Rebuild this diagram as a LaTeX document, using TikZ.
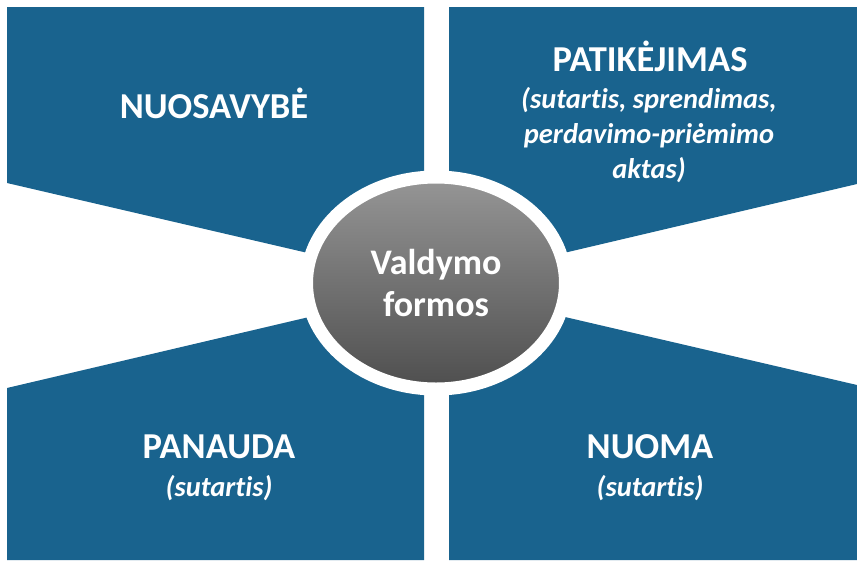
\documentclass[tikz,border=0pt]{standalone}
\usepackage{fontspec}
\setmainfont{Carlito}[Ligatures={NoCommon,NoContextual}]
\usetikzlibrary{shapes.geometric}
\definecolor{blk}{RGB}{25,99,142}
\definecolor{gtop}{RGB}{150,150,150}
\definecolor{gbot}{RGB}{78,78,78}
\begin{document}
\begin{tikzpicture}[x=1pt,y=-1pt,
  block/.style={fill=blk},
  head/.style={anchor=base,text=white,font=\fontsize{36.5}{42}\selectfont\bfseries,inner sep=0pt},
  sub/.style={anchor=base,text=white,font=\fontsize{28.5}{35}\selectfont\bfseries\itshape,inner sep=0pt}]
\useasboundingbox (0,0) rectangle (857,560);
\fill[white] (0,0) rectangle (857,560);
% blocks
\fill[block] (7,7) -- (424,7) -- (424,280) -- (7,183) -- cycle;
\fill[block] (449,7) -- (857,7) -- (857,184) -- (449,280) -- cycle;
\fill[block] (7,560) -- (424,560) -- (424,290) -- (7,388) -- cycle;
\fill[block] (449,560) -- (857,560) -- (857,385) -- (449,290) -- cycle;
% centre
\node[ellipse,minimum width=259pt,minimum height=212pt,inner sep=0pt,
  draw=white,line width=13pt,top color=gtop,bottom color=gbot,
  text=white,align=center,font=\fontsize{36}{42}\selectfont\bfseries] (c) at (436,283) {Valdymo\\formos};
% texts
\node[head] (t1) at (214,118) {NUOSAVYBĖ};
\node[head] (t2) at (650,71) {PATIKĖJIMAS};
\node[sub] (t2a) at (649,108) {(sutartis, sprendimas,};
\node[sub] (t2b) at (649,143) {perdavimo-priėmimo};
\node[sub] (t2c) at (649,178) {aktas)};
\node[head] (t3) at (219,458) {PANAUDA};
\node[sub] (t3a) at (219,496) {(sutartis)};
\node[head] (t4) at (650,458) {NUOMA};
\node[sub] (t4a) at (650,496) {(sutartis)};
\end{tikzpicture}
\end{document}
